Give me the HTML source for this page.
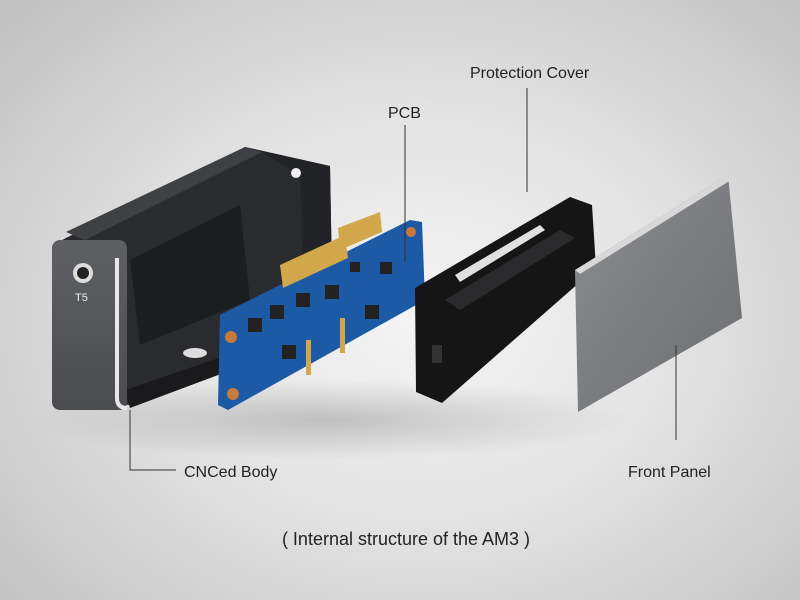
<!DOCTYPE html>
<html><head><style>
html,body{margin:0;padding:0}
body{width:800px;height:600px;overflow:hidden;background:radial-gradient(ellipse 560px 440px at 420px 320px,#f4f4f4 0%,#e4e4e4 45%,#c2c2c2 100%);font-family:"Liberation Sans",sans-serif}
svg{position:absolute;left:0;top:0}
</style></head><body>
<svg width="800" height="600" viewBox="0 0 800 600">
<defs>
<linearGradient id="fp" x1="0" y1="0" x2="1" y2="1"><stop offset="0" stop-color="#8a8c90"/><stop offset="1" stop-color="#6c6e72"/></linearGradient>
<linearGradient id="bf" x1="0" y1="0" x2="0" y2="1"><stop offset="0" stop-color="#5e6064"/><stop offset="1" stop-color="#4a4c50"/></linearGradient>
<radialGradient id="sh" cx="0.5" cy="0.5" r="0.5"><stop offset="0" stop-color="#000" stop-opacity="0.18"/><stop offset="1" stop-color="#000" stop-opacity="0"/></radialGradient>
</defs>
<ellipse cx="330" cy="420" rx="300" ry="40" fill="url(#sh)"/>
<polygon points="62,240 245,147 330,166 333,330 130,405 60,400" fill="#2a2b2e"/>
<polygon points="66,232 245,147 262,152 85,240" fill="#3e4044"/>
<polygon points="245,147 330,166 333,330 305,335 300,175 262,152" fill="#222326"/>
<polygon points="130,260 240,205 250,300 140,345" fill="#1c1d20"/>
<circle cx="296" cy="173" r="5" fill="#eee"/>
<polygon points="125,390 330,320 333,332 130,408" fill="#1a1a1c"/>
<ellipse cx="195" cy="353" rx="12" ry="5" fill="#ddd"/>
<rect x="52" y="240" width="75" height="170" rx="8" fill="url(#bf)"/>
<path d="M117,258 L117,398 Q117,408 127,408" stroke="#e8e8e8" stroke-width="4" fill="none"/>
<circle cx="83" cy="273" r="10" fill="#ddd"/><circle cx="83" cy="273" r="6" fill="#222"/>
<text x="75" y="301" font-size="11" fill="#eee">T5</text>
<polygon points="220,315 410,220 422,222 425,300 228,410 218,405" fill="#1d5aa6"/>
<polygon points="280,265 345,235 348,258 283,288" fill="#d2a64a"/>
<polygon points="338,228 380,212 382,232 340,250" fill="#d2a64a"/>
<g fill="#222">
<rect x="248" y="318" width="14" height="14"/><rect x="270" y="305" width="14" height="14"/><rect x="296" y="293" width="14" height="14"/>
<rect x="325" y="285" width="14" height="14"/><rect x="365" y="305" width="14" height="14"/><rect x="282" y="345" width="14" height="14"/>
<rect x="380" y="262" width="12" height="12"/><rect x="350" y="262" width="10" height="10"/></g>
<circle cx="231" cy="337" r="6" fill="#c87a3a"/><circle cx="233" cy="394" r="6" fill="#c87a3a"/>
<circle cx="411" cy="232" r="5" fill="#c87a3a"/>
<rect x="306" y="340" width="5" height="35" fill="#d2a64a"/><rect x="340" y="318" width="5" height="35" fill="#d2a64a"/>
<polygon points="415,288 570,197 592,205 596,268 442,403 416,392" fill="#151516"/>
<polygon points="445,300 560,230 575,238 460,310" fill="#2a2a2c"/>
<polygon points="455,275 540,225 545,230 460,282" fill="#e0e0e0"/>
<rect x="432" y="345" width="10" height="18" fill="#333"/>
<polygon points="575,270 728,175 742,318 578,412" fill="url(#fp)"/>
<polygon points="575,270 728,175 731,180 580,274" fill="#d8d8d8"/>
<g stroke="#333" stroke-width="1" fill="none">
<line x1="405" y1="125" x2="405" y2="262"/>
<line x1="527" y1="88" x2="527" y2="192"/>
<line x1="676" y1="345" x2="676" y2="440"/>
<polyline points="130,410 130,470 176,470"/>
</g>
<g font-size="16" fill="#222">
<text x="470" y="78">Protection Cover</text>
<text x="388" y="118">PCB</text>
<text x="184" y="477">CNCed Body</text>
<text x="628" y="477">Front Panel</text>
<text x="406" y="545" font-size="18" text-anchor="middle">( Internal structure of the AM3 )</text>
</g>
</svg>
</body></html>
